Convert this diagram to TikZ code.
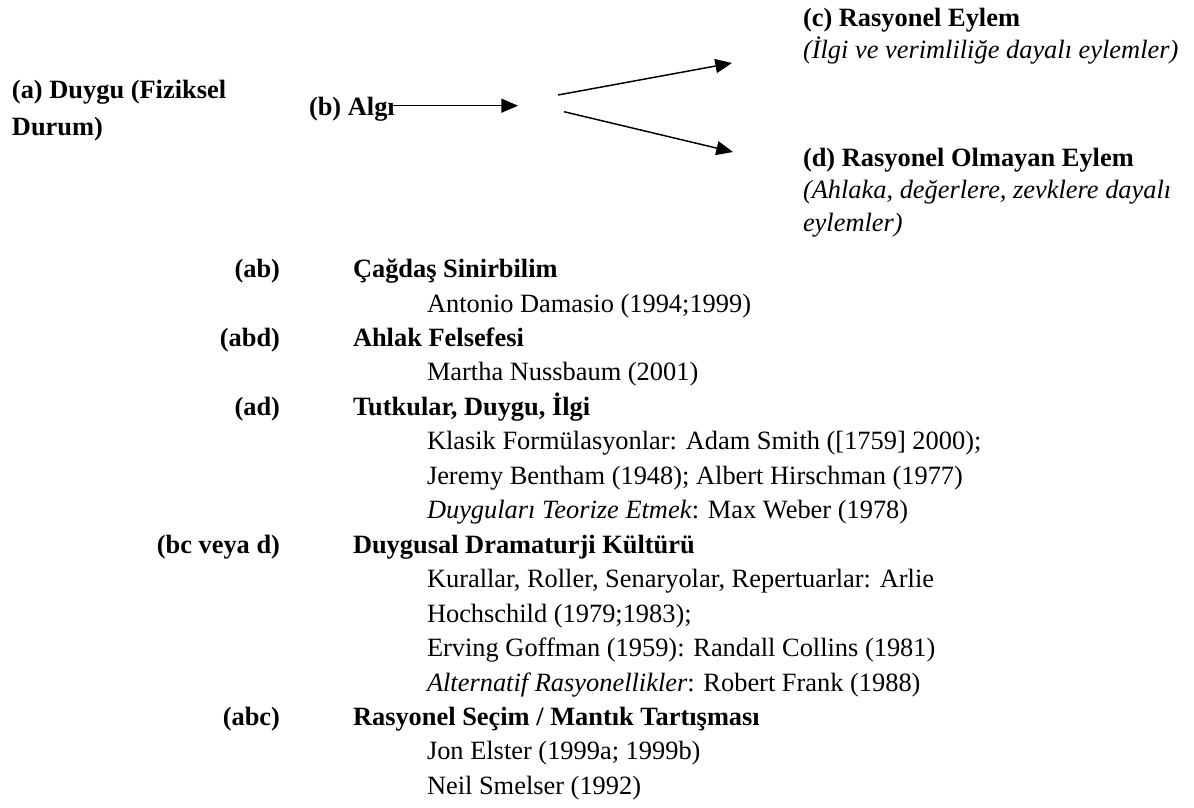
\documentclass[tikz,border=0pt]{standalone}
\usepackage{fontspec}
\setmainfont{Liberation Serif}
\usetikzlibrary{arrows.meta}
\begin{document}
\begin{tikzpicture}[x=0.75pt,y=-0.75pt,
  txt/.style={inner sep=0pt,outer sep=0pt,font=\fontsize{19.8pt}{24pt}\selectfont},
  lft/.style={txt,anchor=base west},
  rgt/.style={txt,anchor=base east},
  hd/.style={lft,font=\fontsize{19.8pt}{24pt}\selectfont\bfseries},
  lab/.style={rgt,font=\fontsize{19.8pt}{24pt}\selectfont\bfseries},
  arr/.style={line width=1.1pt,-{Triangle[length=12.5pt,width=10.5pt]}}]
\useasboundingbox (0,0) rectangle (1194,807);
% top diagram
\node[hd] (a1) at (12,98) {(a) Duygu (Fiziksel};
\node[hd] (a2) at (12,135) {Durum)};
\node[hd] (b) at (309,115) {(b) Algı};
\node[hd] (c1) at (803,26) {(c) Rasyonel Eylem};
\node[lft,font=\fontsize{19.8pt}{24pt}\selectfont\itshape] (c2) at (803,58.5) {(İlgi ve verimliliğe dayalı eylemler)};
\node[hd] (d1) at (803,166) {(d) Rasyonel Olmayan Eylem};
\node[lft,font=\fontsize{19.8pt}{24pt}\selectfont\itshape] (d2) at (803,198.5) {(Ahlaka, değerlere, zevklere dayalı};
\node[lft,font=\fontsize{19.8pt}{24pt}\selectfont\itshape] (d3) at (803,231) {eylemler)};
\coordinate (bs) at (390,105.7);
\coordinate (bt) at (518,105.7);
\coordinate (us) at (558,95);
\coordinate (ut) at (732,63);
\coordinate (ls) at (564,111.7);
\coordinate (lt) at (733,152);
\draw[arr] (bs) -- (bt);
\draw[arr] (us) -- (ut);
\draw[arr] (ls) -- (lt);
% list
\node[lab] (l0) at (280,277.6) {(ab)};
\node[hd] (h0) at (353,277.6) {Çağdaş Sinirbilim};
\node[lft] (s1) at (427,312.05) {Antonio Damasio (1994;1999)};
\node[lab] (l2) at (280,346.5) {(abd)};
\node[hd] (h2) at (353,346.5) {Ahlak Felsefesi};
\node[lft] (s3) at (427,380.95) {Martha Nussbaum (2001)};
\node[lab] (l4) at (280,415.4) {(ad)};
\node[hd] (h4) at (353,415.4) {Tutkular, Duygu, İlgi};
\node[lft] (s5) at (427,449.85) {Klasik Formülasyonlar: Adam Smith ([1759] 2000);};
\node[lft] (s6) at (427,484.3) {Jeremy Bentham (1948); Albert Hirschman (1977)};
\node[lft] (s7) at (427,518.75) {\textit{Duyguları Teorize Etmek}: Max Weber (1978)};
\node[lab] (l8) at (280,553.2) {(bc veya d)};
\node[hd] (h8) at (353,553.2) {Duygusal Dramaturji Kültürü};
\node[lft] (s9) at (427,587.65) {Kurallar, Roller, Senaryolar, Repertuarlar: Arlie};
\node[lft] (s10) at (427,622.1) {Hochschild (1979;1983);};
\node[lft] (s11) at (427,656.55) {Erving Goffman (1959): Randall Collins (1981)};
\node[lft] (s12) at (427,691) {\textit{Alternatif Rasyonellikler}: Robert Frank (1988)};
\node[lab] (l13) at (280,725.45) {(abc)};
\node[hd] (h13) at (353,725.45) {Rasyonel Seçim / Mantık Tartışması};
\node[lft] (s14) at (427,759.9) {Jon Elster (1999a; 1999b)};
\node[lft] (s15) at (427,794.35) {Neil Smelser (1992)};
\end{tikzpicture}
\end{document}
